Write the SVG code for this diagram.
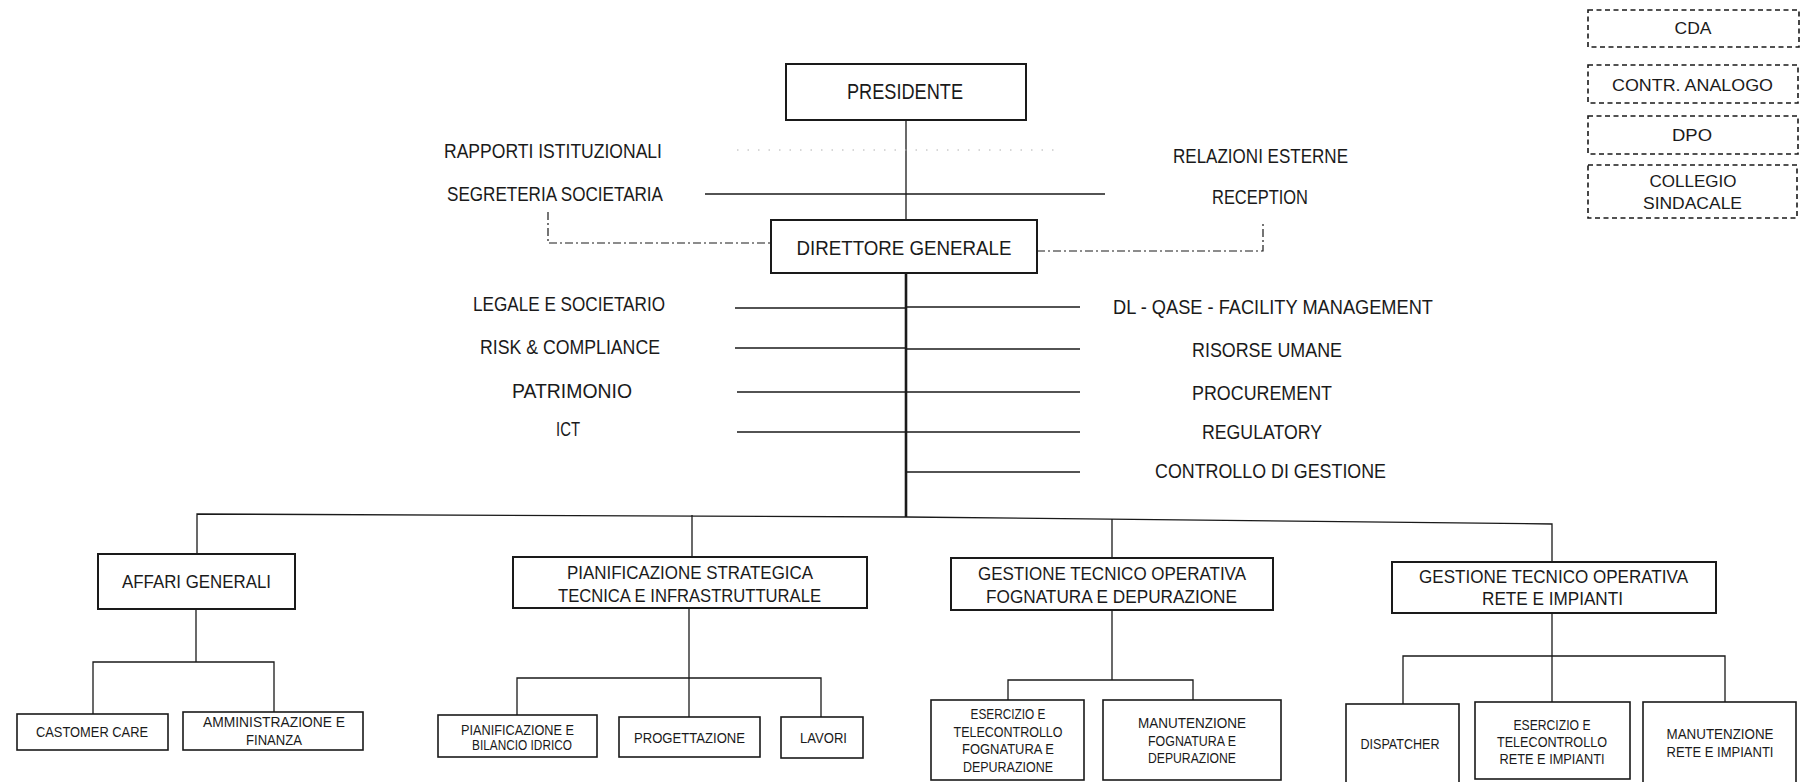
<svg xmlns="http://www.w3.org/2000/svg" width="1804" height="782" viewBox="0 0 1804 782">
<style>
text{font-family:"Liberation Sans",Arial,sans-serif;fill:#1a1a1a;text-anchor:middle}
.t0{font-size:21px}
.t1{font-size:18px}
.t2{font-size:15px}
.td{font-size:17px}
.box{fill:#fff;stroke:#1a1a1a;stroke-width:2}
.sbox{fill:#fff;stroke:#1a1a1a;stroke-width:1.6}
.dbox{fill:#fff;stroke:#1a1a1a;stroke-width:1.6;stroke-dasharray:5 3.5}
.ln{fill:none;stroke:#1a1a1a;stroke-width:1.3}
.trunk{fill:none;stroke:#1a1a1a;stroke-width:2.6}
.dd{fill:none;stroke:#1a1a1a;stroke-width:1.2;stroke-dasharray:8 3 2 3}
.dot{fill:none;stroke:#b0b0b0;stroke-width:1;stroke-dasharray:1.5 9}
</style>
<rect width="1804" height="782" fill="#fff"/>

<g id="connectors">
  <line class="ln" x1="906" y1="120" x2="906" y2="220"/>
  <line class="dot" x1="737" y1="150" x2="1062" y2="150"/>
  <line class="ln" x1="705" y1="194" x2="1105" y2="194"/>
  <polyline class="dd" points="548,212 548,243 771,243"/>
  <polyline class="dd" points="1037,251 1263,251 1263,222"/>
  <line class="trunk" x1="906" y1="273" x2="906" y2="517"/>
  <line class="ln" x1="735" y1="308" x2="906" y2="308"/>
  <line class="ln" x1="735" y1="348" x2="906" y2="348"/>
  <line class="ln" x1="737" y1="392" x2="906" y2="392"/>
  <line class="ln" x1="737" y1="432" x2="906" y2="432"/>
  <line class="ln" x1="906" y1="307" x2="1080" y2="307"/>
  <line class="ln" x1="906" y1="349" x2="1080" y2="349"/>
  <line class="ln" x1="906" y1="392" x2="1080" y2="392"/>
  <line class="ln" x1="906" y1="432" x2="1080" y2="432"/>
  <line class="ln" x1="906" y1="472" x2="1080" y2="472"/>
  <polyline class="ln" points="197,554 197,514 906,517 1552,524 1552,562"/>
  <line class="ln" x1="692" y1="515" x2="692" y2="557"/>
  <line class="ln" x1="1112" y1="519" x2="1112" y2="558"/>
  <line class="ln" x1="196" y1="609" x2="196" y2="662"/>
  <polyline class="ln" points="93,714 93,662 274,662 274,712"/>
  <line class="ln" x1="689" y1="608" x2="689" y2="717"/>
  <polyline class="ln" points="517,715 517,678 821,678 821,717"/>
  <line class="ln" x1="1112" y1="610" x2="1112" y2="680"/>
  <polyline class="ln" points="1008,700 1008,680 1193,680 1193,700"/>
  <line class="ln" x1="1552" y1="613" x2="1552" y2="702"/>
  <polyline class="ln" points="1403,704 1403,656 1725,656 1725,702"/>
</g>

<g id="presidente">
  <rect class="box" x="786" y="64" width="240" height="56"/>
  <text x="905" y="99" style="font-size:22px" textLength="116" lengthAdjust="spacingAndGlyphs">PRESIDENTE</text>
</g>
<g id="rapporti-istituzionali">
  <text class="t0" x="553" y="157.5" textLength="218" lengthAdjust="spacingAndGlyphs">RAPPORTI ISTITUZIONALI</text>
</g>
<g id="segreteria-societaria">
  <text class="t0" x="555" y="200.5" textLength="216" lengthAdjust="spacingAndGlyphs">SEGRETERIA SOCIETARIA</text>
</g>
<g id="relazioni-esterne">
  <text class="t0" x="1260.5" y="162.5" textLength="175" lengthAdjust="spacingAndGlyphs">RELAZIONI ESTERNE</text>
</g>
<g id="reception">
  <text class="t0" x="1260" y="203.5" textLength="96" lengthAdjust="spacingAndGlyphs">RECEPTION</text>
</g>
<g id="direttore-generale">
  <rect class="box" x="771" y="220" width="266" height="53"/>
  <text class="t0" x="904" y="254.5" textLength="215" lengthAdjust="spacingAndGlyphs">DIRETTORE GENERALE</text>
</g>

<g id="legale"><text class="t0" x="569" y="310.5" textLength="192" lengthAdjust="spacingAndGlyphs">LEGALE E SOCIETARIO</text></g>
<g id="risk"><text class="t0" x="570" y="353.5" textLength="180" lengthAdjust="spacingAndGlyphs">RISK &amp; COMPLIANCE</text></g>
<g id="patrimonio"><text class="t0" x="572" y="397.5" textLength="120" lengthAdjust="spacingAndGlyphs">PATRIMONIO</text></g>
<g id="ict"><text class="t0" x="568" y="436" textLength="24" lengthAdjust="spacingAndGlyphs">ICT</text></g>
<g id="dl-qase"><text class="t0" x="1273" y="313.5" textLength="320" lengthAdjust="spacingAndGlyphs">DL - QASE - FACILITY MANAGEMENT</text></g>
<g id="risorse-umane"><text class="t0" x="1267" y="356.5" textLength="150" lengthAdjust="spacingAndGlyphs">RISORSE UMANE</text></g>
<g id="procurement"><text class="t0" x="1262" y="399.5" textLength="140" lengthAdjust="spacingAndGlyphs">PROCUREMENT</text></g>
<g id="regulatory"><text class="t0" x="1262" y="438.5" textLength="120" lengthAdjust="spacingAndGlyphs">REGULATORY</text></g>
<g id="controllo-gestione"><text class="t0" x="1270.5" y="477.5" textLength="231" lengthAdjust="spacingAndGlyphs">CONTROLLO DI GESTIONE</text></g>

<g id="cda">
  <rect class="dbox" x="1588" y="10" width="211" height="37"/>
  <text class="td" x="1693" y="34" textLength="37" lengthAdjust="spacingAndGlyphs">CDA</text>
</g>
<g id="contr-analogo">
  <rect class="dbox" x="1588" y="65" width="210" height="38"/>
  <text class="td" x="1692.5" y="91" textLength="161" lengthAdjust="spacingAndGlyphs">CONTR. ANALOGO</text>
</g>
<g id="dpo">
  <rect class="dbox" x="1588" y="116" width="210" height="38"/>
  <text class="td" x="1692" y="141" textLength="40" lengthAdjust="spacingAndGlyphs">DPO</text>
</g>
<g id="collegio-sindacale">
  <rect class="dbox" x="1588" y="165" width="209" height="53"/>
  <text class="td" x="1693" y="187" textLength="87" lengthAdjust="spacingAndGlyphs">COLLEGIO</text>
  <text class="td" x="1692.5" y="209" textLength="99" lengthAdjust="spacingAndGlyphs">SINDACALE</text>
</g>

<g id="affari-generali">
  <rect class="box" x="98" y="554" width="197" height="55"/>
  <text class="t1" x="196.5" y="587.5" textLength="149" lengthAdjust="spacingAndGlyphs">AFFARI GENERALI</text>
</g>
<g id="pianificazione-strategica">
  <rect class="box" x="513" y="557" width="354" height="51"/>
  <text class="t1" x="690" y="578.5" textLength="246" lengthAdjust="spacingAndGlyphs">PIANIFICAZIONE STRATEGICA</text>
  <text class="t1" x="689.5" y="601.5" textLength="263" lengthAdjust="spacingAndGlyphs">TECNICA E INFRASTRUTTURALE</text>
</g>
<g id="gestione-fognatura">
  <rect class="box" x="951" y="558" width="322" height="52"/>
  <text class="t1" x="1112" y="579.5" textLength="268" lengthAdjust="spacingAndGlyphs">GESTIONE TECNICO OPERATIVA</text>
  <text class="t1" x="1111.5" y="602.5" textLength="251" lengthAdjust="spacingAndGlyphs">FOGNATURA E DEPURAZIONE</text>
</g>
<g id="gestione-rete">
  <rect class="box" x="1392" y="562" width="324" height="51"/>
  <text class="t1" x="1553.5" y="582.5" textLength="269" lengthAdjust="spacingAndGlyphs">GESTIONE TECNICO OPERATIVA</text>
  <text class="t1" x="1552.5" y="604.5" textLength="141" lengthAdjust="spacingAndGlyphs">RETE E IMPIANTI</text>
</g>

<g id="customer-care">
  <rect class="sbox" x="17" y="714" width="151" height="36"/>
  <text class="t2" x="92" y="736.5" textLength="112" lengthAdjust="spacingAndGlyphs">CASTOMER CARE</text>
</g>
<g id="amministrazione-finanza">
  <rect class="sbox" x="183" y="712" width="180" height="38"/>
  <text class="t2" x="274" y="727" textLength="142" lengthAdjust="spacingAndGlyphs">AMMINISTRAZIONE E</text>
  <text class="t2" x="274" y="745" textLength="56" lengthAdjust="spacingAndGlyphs">FINANZA</text>
</g>
<g id="pianificazione-bilancio">
  <rect class="sbox" x="438" y="715" width="159" height="42"/>
  <text class="t2" x="517.5" y="734.5" textLength="113" lengthAdjust="spacingAndGlyphs">PIANIFICAZIONE E</text>
  <text class="t2" x="522" y="750" textLength="100" lengthAdjust="spacingAndGlyphs">BILANCIO IDRICO</text>
</g>
<g id="progettazione">
  <rect class="sbox" x="619" y="717" width="141" height="40"/>
  <text class="t2" x="689.5" y="742.5" textLength="111" lengthAdjust="spacingAndGlyphs">PROGETTAZIONE</text>
</g>
<g id="lavori">
  <rect class="sbox" x="781" y="717" width="82" height="41"/>
  <text class="t2" x="823.5" y="742.5" textLength="47" lengthAdjust="spacingAndGlyphs">LAVORI</text>
</g>
<g id="esercizio-fognatura">
  <rect class="sbox" x="931" y="700" width="153" height="80"/>
  <text class="t2" x="1008" y="718.5" textLength="75" lengthAdjust="spacingAndGlyphs">ESERCIZIO E</text>
  <text class="t2" x="1008" y="736.5" textLength="109" lengthAdjust="spacingAndGlyphs">TELECONTROLLO</text>
  <text class="t2" x="1008" y="753.5" textLength="92" lengthAdjust="spacingAndGlyphs">FOGNATURA E</text>
  <text class="t2" x="1008" y="771.5" textLength="90" lengthAdjust="spacingAndGlyphs">DEPURAZIONE</text>
</g>
<g id="manutenzione-fognatura">
  <rect class="sbox" x="1103" y="700" width="178" height="80"/>
  <text class="t2" x="1192" y="727.5" textLength="108" lengthAdjust="spacingAndGlyphs">MANUTENZIONE</text>
  <text class="t2" x="1192" y="745.5" textLength="88" lengthAdjust="spacingAndGlyphs">FOGNATURA E</text>
  <text class="t2" x="1192" y="762.5" textLength="88" lengthAdjust="spacingAndGlyphs">DEPURAZIONE</text>
</g>
<g id="dispatcher">
  <rect class="sbox" x="1346" y="704" width="113" height="90"/>
  <text class="t2" x="1400" y="748.5" textLength="79" lengthAdjust="spacingAndGlyphs">DISPATCHER</text>
</g>
<g id="esercizio-rete">
  <rect class="sbox" x="1475" y="702" width="155" height="77"/>
  <text class="t2" x="1552" y="729.5" textLength="77" lengthAdjust="spacingAndGlyphs">ESERCIZIO E</text>
  <text class="t2" x="1552" y="746.5" textLength="110" lengthAdjust="spacingAndGlyphs">TELECONTROLLO</text>
  <text class="t2" x="1552" y="763.5" textLength="105" lengthAdjust="spacingAndGlyphs">RETE E IMPIANTI</text>
</g>
<g id="manutenzione-rete">
  <rect class="sbox" x="1643" y="702" width="153" height="92"/>
  <text class="t2" x="1720" y="738.5" textLength="107" lengthAdjust="spacingAndGlyphs">MANUTENZIONE</text>
  <text class="t2" x="1720" y="756.5" textLength="107" lengthAdjust="spacingAndGlyphs">RETE E IMPIANTI</text>
</g>
</svg>
